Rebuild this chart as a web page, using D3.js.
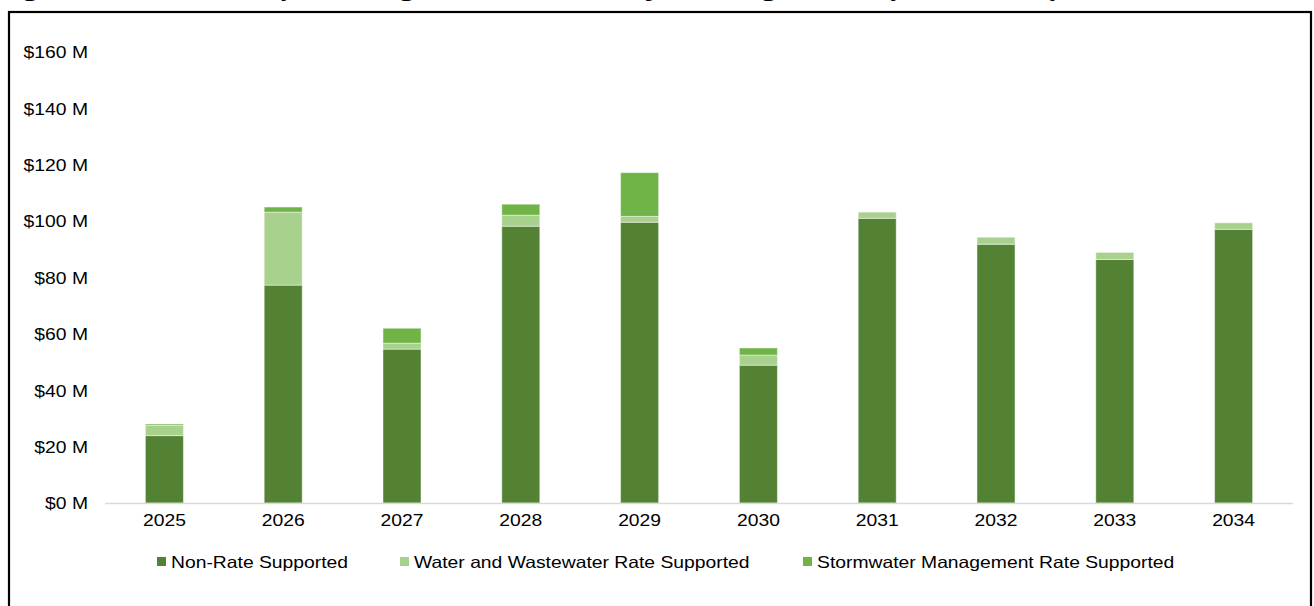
<!DOCTYPE html>
<html>
<head>
<meta charset="utf-8">
<script src="https://cdn.jsdelivr.net/npm/d3@7"></script>
<style>
  html, body { margin: 0; padding: 0; background: #fff; overflow: hidden; }
  svg { display: block; font-family: "Liberation Sans", Arial, sans-serif; }
</style>
</head>
<body>
<svg id="chart" width="1314" height="606"></svg>
<script>
const years = ["2025","2026","2027","2028","2029","2030","2031","2032","2033","2034"];
const nonRate = [23.9, 77.3, 54.6, 98.2, 99.6, 48.9, 101.0, 91.8, 86.4, 97.1];
const waterWastewater = [3.6, 25.9, 2.1, 3.9, 2.1, 3.6, 2.2, 2.5, 2.5, 2.3];
const stormwater = [0.5, 1.8, 5.3, 3.9, 15.5, 2.5, 0, 0, 0, 0];
const seriesNames = ["Non-Rate Supported", "Water and Wastewater Rate Supported", "Stormwater Management Rate Supported"];
const seriesColors = ["#548235", "#a9d18e", "#70b347"];
const yTicks = [0, 20, 40, 60, 80, 100, 120, 140, 160];
const titleText = "Figure 4: Ten-Year Capital Budget and Forecast by Funding Source (2025 – 2034)";

const STRETCH = 1.17;
function widen(sel) {
  sel.each(function() {
    const len = this.getComputedTextLength();
    d3.select(this).attr("textLength", len * STRETCH).attr("lengthAdjust", "spacingAndGlyphs");
  });
}

const svg = d3.select("#chart");

// frame
svg.append("rect")
  .attr("x", 9).attr("y", 12).attr("width", 1302).attr("height", 620)
  .attr("fill", "none").attr("stroke", "#000").attr("stroke-width", 2.2);

// clipped title (cut off at the top edge as in the reference)
svg.append("text")
  .attr("x", -3).attr("y", -1.8)
  .attr("font-size", 17).attr("font-weight", "bold").attr("fill", "#000")
  .attr("textLength", 1062).attr("lengthAdjust", "spacingAndGlyphs")
  .text(titleText);

const x = d3.scaleBand().domain(years).range([105, 1293]).paddingInner(0.68).paddingOuter(0.34);
const y = d3.scaleLinear().domain([0, 160]).range([503, 52]);

const table = years.map((yr, i) => ({ year: yr, s0: nonRate[i], s1: waterWastewater[i], s2: stormwater[i] }));
const stack = d3.stack().keys(["s0", "s1", "s2"])(table);

// y axis labels
const yAxis = d3.axisLeft(y).tickValues(yTicks).tickSize(0).tickPadding(0).tickFormat(d => "$" + d + " M");
const yg = svg.append("g").attr("transform", "translate(88,0)").call(yAxis);
yg.select(".domain").remove();
yg.selectAll("text").attr("font-size", 16.5).attr("fill", "#000")
  .attr("font-family", "Liberation Sans, Arial, sans-serif").attr("dy", "0.35em").call(widen);

// bars
svg.append("g").selectAll("g").data(stack).join("g")
  .attr("fill", (d, i) => seriesColors[i])
  .selectAll("rect").data(d => d.filter(v => v[1] - v[0] > 0)).join("rect")
  .attr("x", d => x(d.data.year))
  .attr("width", x.bandwidth())
  .attr("y", d => y(d[1]))
  .attr("height", d => y(d[0]) - y(d[1]))
  .attr("stroke", "#ffffff").attr("stroke-opacity", 0.45).attr("stroke-width", 1);

// baseline
svg.append("line")
  .attr("x1", 105).attr("x2", 1293).attr("y1", y(0) + 0.5).attr("y2", y(0) + 0.5)
  .attr("stroke", "#d9d9d9").attr("stroke-width", 1.5);

// x axis labels
const xAxis = d3.axisBottom(x).tickSize(0).tickPadding(0);
const xg = svg.append("g").attr("transform", `translate(0,${y(0)})`).call(xAxis);
xg.select(".domain").remove();
xg.selectAll("text").attr("font-size", 16.5).attr("fill", "#000")
  .attr("font-family", "Liberation Sans, Arial, sans-serif").attr("dy", "23").attr("y", 0).call(widen);

// legend
const legendX = [157, 400, 803];
const lg = svg.append("g");
seriesNames.forEach((name, i) => {
  lg.append("rect").attr("x", legendX[i]).attr("y", 557).attr("width", 9).attr("height", 9).attr("fill", seriesColors[i]);
  lg.append("text").attr("x", legendX[i] + 14).attr("y", 568).attr("font-size", 16.5).attr("fill", "#000").text(name).call(widen);
});
</script>
</body>
</html>
